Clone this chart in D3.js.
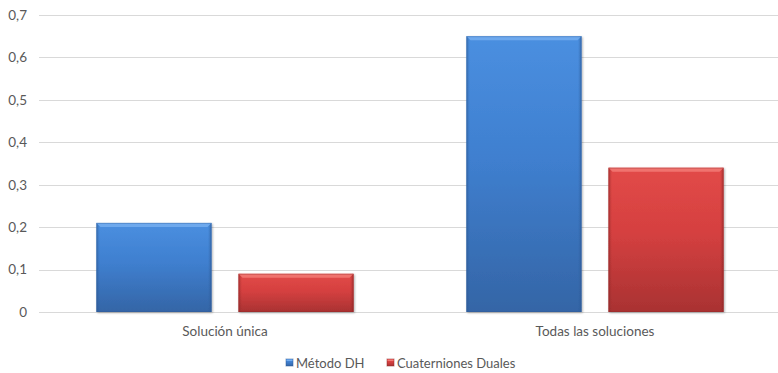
<!DOCTYPE html>
<html>
<head>
<meta charset="utf-8">
<script src="https://cdn.jsdelivr.net/npm/d3@7"></script>
<style>
  html, body { margin: 0; padding: 0; background: #fff; }
  svg { display: block; }
  text { font-family: Lato, "Open Sans", sans-serif; fill: #595959; }
</style>
</head>
<body>
<svg id="chart" width="778" height="373"></svg>
<script>
// Chart data
const categories = ["Solución única", "Todas las soluciones"];
const series = ["Método DH", "Cuaterniones Duales"];
const metodoDH = [0.21, 0.65];
const cuaternionesDuales = [0.09, 0.34];
const yTicks = [0, 0.1, 0.2, 0.3, 0.4, 0.5, 0.6, 0.7];
const yTickLabels = ["0", "0,1", "0,2", "0,3", "0,4", "0,5", "0,6", "0,7"];

const valuesBySeries = [metodoDH, cuaternionesDuales];
const palette = [
  { top: "#4a8fe0", mid: "#3f7fcf", bottom: "#3465a6", bevel: "#74aef0", edge: "#2d5a95" },
  { top: "#e24a48", mid: "#d54040", bottom: "#a93232", bevel: "#f27a76", edge: "#8e2828" }
];

const svg = d3.select("#chart");
const W = 778, H = 373;
const plot = { left: 40, right: 780, top: 15, bottom: 312 };

const y = d3.scaleLinear().domain([0, 0.7]).range([plot.bottom, plot.top]);
const x0 = d3.scaleBand().domain(categories).range([plot.left, plot.right])
  .paddingInner(0.305).paddingOuter(0.1525);
const x1 = d3.scaleBand().domain(series).range([0, x0.bandwidth()]).paddingInner(0.19);

// Gradients for bevelled bars
const defs = svg.append("defs");
palette.forEach((p, i) => {
  const g = defs.append("linearGradient").attr("id", "fill" + i)
    .attr("x1", 0).attr("y1", 0).attr("x2", 0).attr("y2", 1);
  g.append("stop").attr("offset", 0).attr("stop-color", p.top);
  g.append("stop").attr("offset", 0.45).attr("stop-color", p.mid);
  g.append("stop").attr("offset", 1).attr("stop-color", p.bottom);
  const s = defs.append("linearGradient").attr("id", "side" + i)
    .attr("x1", 0).attr("y1", 0).attr("x2", 1).attr("y2", 0);
  s.append("stop").attr("offset", 0).attr("stop-color", p.edge).attr("stop-opacity", 0.55);
  s.append("stop").attr("offset", 0.03).attr("stop-color", p.edge).attr("stop-opacity", 0);
  s.append("stop").attr("offset", 0.97).attr("stop-color", p.edge).attr("stop-opacity", 0);
  s.append("stop").attr("offset", 1).attr("stop-color", p.edge).attr("stop-opacity", 0.6);
});
const shadow = defs.append("filter").attr("id", "shadow")
  .attr("x", "-10%").attr("y", "-10%").attr("width", "120%").attr("height", "120%");
shadow.append("feGaussianBlur").attr("in", "SourceAlpha").attr("stdDeviation", 1.2);
shadow.append("feOffset").attr("dx", 1).attr("dy", 1).attr("result", "b");
shadow.append("feComponentTransfer").append("feFuncA").attr("type", "linear").attr("slope", 0.3);
const merge = shadow.append("feMerge");
merge.append("feMergeNode");
merge.append("feMergeNode").attr("in", "SourceGraphic");

// Gridlines
svg.append("g").selectAll("line").data(yTicks).join("line")
  .attr("x1", plot.left - 1).attr("x2", W)
  .attr("y1", d => Math.round(y(d)) + 0.5).attr("y2", d => Math.round(y(d)) + 0.5)
  .attr("stroke", "#d9d9d9").attr("stroke-width", 1);

// Y axis labels
const yAxis = d3.axisLeft(y).tickValues(yTicks)
  .tickFormat((d, i) => yTickLabels[i]).tickSize(0).tickPadding(0);
const yg = svg.append("g").attr("transform", `translate(${plot.left - 13},0)`).call(yAxis);
yg.select(".domain").remove();
yg.selectAll("text").style("font-size", "13.5px").attr("fill", "#595959")
  .style("font-family", "Lato, 'Open Sans', sans-serif");

// Bars
function drawBar(g, bx, by, bw, bh, i) {
  const bar = g.append("g").attr("filter", "url(#shadow)");
  bar.append("rect").attr("x", bx).attr("y", by).attr("width", bw).attr("height", bh)
    .attr("fill", `url(#fill${i})`);
  bar.append("rect").attr("x", bx).attr("y", by).attr("width", bw).attr("height", bh)
    .attr("fill", `url(#side${i})`);
  const b = Math.min(4, bh / 2);
  bar.append("path")
    .attr("d", `M${bx},${by}L${bx + bw},${by}L${bx + bw - b},${by + b}L${bx + b},${by + b}Z`)
    .attr("fill", palette[i].bevel).attr("opacity", 0.85);
  bar.append("rect").attr("x", bx + 0.5).attr("y", by + 0.5).attr("width", bw - 1).attr("height", bh - 1)
    .attr("fill", "none").attr("stroke", palette[i].edge).attr("stroke-opacity", 0.35);
}

const groups = svg.append("g").selectAll("g").data(categories).join("g")
  .attr("transform", d => `translate(${x0(d)},0)`);
groups.each(function (cat, ci) {
  const g = d3.select(this);
  series.forEach((s, si) => {
    const v = valuesBySeries[si][ci];
    drawBar(g, x1(s), y(v), x1.bandwidth(), y(0) - y(v), si);
  });
});

// X axis labels
const xAxis = d3.axisBottom(x0).tickSize(0).tickPadding(0);
const xg = svg.append("g").attr("transform", `translate(0,${plot.bottom + 14})`).call(xAxis);
xg.select(".domain").remove();
xg.selectAll("text").style("font-size", "13.5px").attr("fill", "#595959")
  .style("font-family", "Lato, 'Open Sans', sans-serif");

// Legend
const legendX = [286, 387];
const legend = svg.append("g").selectAll("g").data(series).join("g")
  .attr("transform", (d, i) => `translate(${legendX[i]},${359})`);
legend.each(function (s, i) {
  const g = d3.select(this);
  g.append("rect").attr("x", 0).attr("y", 0).attr("width", 7).attr("height", 7)
    .attr("fill", `url(#fill${i})`).attr("stroke", palette[i].edge).attr("stroke-opacity", 0.5);
  g.append("rect").attr("x", 0.5).attr("y", 0.5).attr("width", 6).attr("height", 1.5)
    .attr("fill", palette[i].bevel);
  g.append("text").attr("x", 10).attr("y", 8.5).text(s)
    .style("font-size", "13px");
});
</script>
</body>
</html>
